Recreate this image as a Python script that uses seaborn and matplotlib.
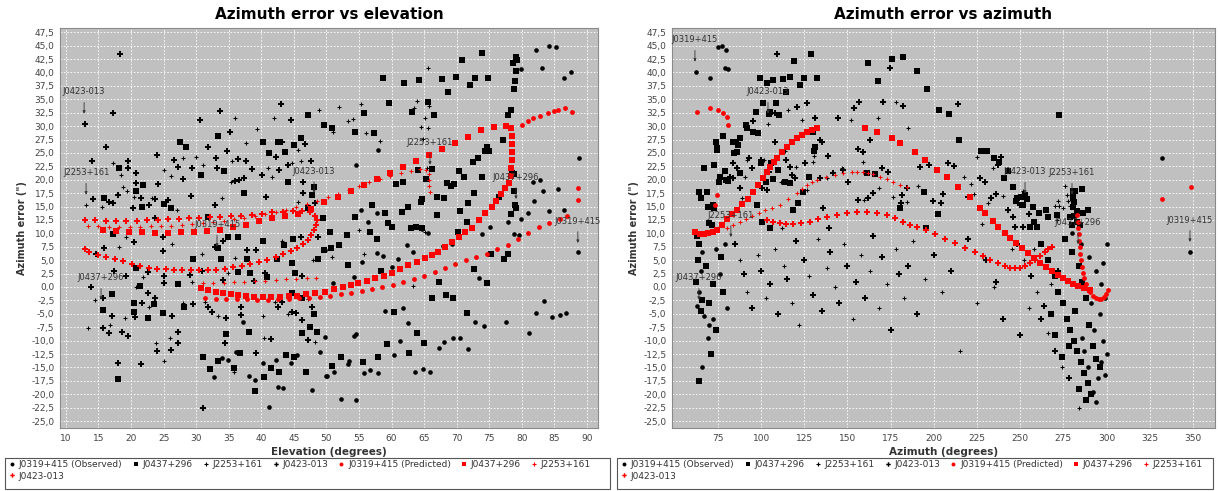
import numpy as np
import pandas as pd
import seaborn as sns
import matplotlib
matplotlib.use("Agg")
import matplotlib.pyplot as plt
from matplotlib.lines import Line2D
from matplotlib.patches import Rectangle
from matplotlib.ticker import FuncFormatter, MultipleLocator, FixedLocator

# ---------------- observed, error vs elevation (elevation, error) ----------------
el_obs_0319 = [(82.2,44.2),(84.2,45),(85.3,44.8),(83.1,40.9),(87.6,40.1),(86.5,39),(79.9,40.7),(57.9,25.6),
    (88.8,24.1),(54.5,22.8),(82.8,20),(81.7,19.6),(85.6,18.3),(83.3,17.9),(81.9,16),(55.3,14.4),(57.8,13.8),
    (84.2,14.2),(86.5,14.4),(81,13.8),(79.9,12.7),(56.4,12.1),(75.1,11.2),(77.9,12.1),(49.8,6.9),(55.5,4.7),
    (57.8,6.3),(58.7,5.8),(54.2,1.9),(51,0.7),(60.1,3.7),(61,5.2),(62.4,7.8),(63.3,6.5),(64.7,10.8),(65.6,10.1),
    (67.9,7.6),(69.3,8),(73.9,9.9),(78.8,9.9),(79.6,9.7),(73.4,1.7),(49.8,-9.3),(54.2,-9.1),(54.5,-8.8),
    (53.4,-13.8),(53.3,-14.4),(51.2,-15.9),(49.9,-16.6),(52.2,-20.9),(54.5,-21.1),(59,-4.5),(61.8,-3.9),
    (62.5,-6.7),(61.3,-10.1),(67.3,-11.4),(68.1,-10.3),(69.4,-9.5),(70.5,-9.5),(60.4,-12.7),(56.7,-15.5),
    (57.9,-16),(55.8,-16),(63.6,-15.9),(64.8,-15.3),(65.9,-15.9),(71.8,-11.6),(72.8,-6.5),(74.2,-7.3),
    (77.6,-6.5),(81.1,-8.6),(82.2,-4.9),(83.4,-2.6),(84.7,-5.6),(85.9,-5.2),(86.8,-4.9),(88.6,6.5),
    (32.7,-16.8),(34,-13.2),(34.9,-13.6),(36.1,-12.1),(37.2,-6.5),(38.1,-16.6),(39,-17.4),(40.3,-14.2),
    (41.2,-22.4),(42.3,-13.6),(42.6,-18.7),(43.3,-18.8),(44.6,-14.2),(45.5,-12.7),(47.8,-19.2),(49,-12.1),
    (50.1,-16.6)]
el_obs_0437 = [(47.2,32.1),(49.6,30.2),(33.3,28.2),(27.5,27.1),(28.4,26.1),(40.3,27.1),(42.6,27.1),(45,26.5),
    (46.1,27.8),(41.2,25),(43.6,25.2),(18.1,22.2),(34.3,21.6),(30.7,20.9),(21.8,19.0),(44.1,19.6),(48.1,18.7),
    (20.8,17.9),(15.8,16.6),(21.7,14.9),(25.1,15.5),(26.1,14.7),(37.3,17.5),(47.2,14.7),(49.5,12.9),(31.8,13.1),
    (47.8,17.2),(70.8,42.4),(73.9,43.7),(79.1,42.9),(79.3,42.4),(78.7,41.8),(79.1,40.3),(58.7,39),(61.9,38.1),
    (64.2,38.6),(67.8,38.8),(69.9,39.2),(72.8,39),(74.8,39),(72.1,37.7),(68.7,36.4),(79,38.4),(78.8,36.9),
    (59.6,34.3),(65.6,34.5),(63.2,32.6),(66.5,32.1),(78.4,33),(77.9,32.1),(55.8,32.5),(50.9,29.7),(54.4,28.9),
    (57.3,28.7),(74.7,26.1),(74.4,25.4),(75,25.4),(77.1,27.4),(73.3,24.1),(72.5,23.3),(64.1,21.8),(66.2,22),
    (70.4,21.6),(71.1,20.5),(73.9,20.5),(78.5,21.3),(78.8,21.1),(65.3,20.1),(61.8,19.6),(60.7,19.2),(68.5,19.4),
    (69.1,18.8),(69.6,19.2),(78.8,17.9),(72.7,17.5),(76.5,16.8),(67,16.8),(68.1,16.6),(64.7,16.4),(64.5,15.9),
    (71.8,15.7),(79,15.3),(79.1,14.7),(62.5,14.9),(57,15.3),(59,13.8),(61.6,14),(70.5,14.2),(78.4,13.6),(67,13.4),
    (54.4,13.1),(59.5,11.9),(63,11),(63.8,11.2),(64.7,11),(71.6,12.1),(50.6,10.3),(50.7,7.3),(51.9,7.8),
    (53.2,9.7),(56.7,10.3),(57.8,9),(53.3,4.1),(58.4,3),(60.1,11.2),(70.2,10.3),(75.3,6.2),(77.3,5.2),(77.9,6.2),
    (72.7,3.4),(74.7,0.7),(67.3,0.9),(66.2,-2.1),(68.4,-1.5),(69.4,-2.1),(52.2,-13.1),(50.9,-14.7),(60.4,-4.7),
    (63.9,-8.6),(65,-10.4),(59.3,-10.6),(62.7,-12.3),(55.6,-14),(57.9,-13.1),(71.6,-4.9),(17.2,9.9),(20.8,3.5),
    (21.4,0.2),(27.2,0.6),(29.5,5.2),(15.7,-4.3),(17.1,-1.3),(20.4,-3),(20.4,-4.7),(22.6,-5.8),(23.5,-3.2),
    (24.9,-4.9),(18,-17.2),(28.1,-3.7),(31,-13.1),(32.1,-15.3),(33.3,-13.8),(35.8,-15.1),(36.7,-12.3),
    (34.6,-8.8),(38.1,-8.4),(39,-19.4),(40.4,-16.8),(41.5,-15.1),(42.7,-15.9),(43.8,-12.7),(45,-13.1),
    (46.9,-15.9),(46.3,-8.6),(48.6,-8.4),(47.5,-7.5),(48.1,-5),(46.3,-2.1),(33.8,5.2),(34.9,9.3),(36.4,9.3),
    (33.3,7.3),(37.8,5.2),(40.3,8.6),(43.5,7.8),(44.9,9),(49.6,6.9),(44.7,4.5),(42.4,5.2),(40.9,1.9),(38.3,2.6),
    (36.4,2.8),(45.2,2.6),(48.7,5.2),(44.7,-1.1)]
el_obs_2253 = [(13.1,15.3),(36,31.5),(41.9,31.5),(48.9,33),(39.3,29.5),(37.6,26.9),(45.6,25.6),(30,24.3),
    (17.2,23.1),(28,24.1),(35.5,23.5),(46.1,23.5),(25,21.8),(31,22.8),(41,22.2),(44.7,23.1),(26.1,20.7),
    (41.6,20.5),(35.3,19.6),(18.4,20.9),(18.8,18.7),(19.4,17.9),(20.4,16.8),(23.2,16.6),(27.1,14.4),(15.5,14.9),
    (34,16.6),(45.6,15.9),(65.6,40.9),(55.3,34.1),(51.9,33.6),(63.9,34.7),(65.8,33.8),(63.5,33.4),(65.1,31.5),
    (54.1,31.3),(53.3,31),(51,28.9),(56.1,28.7),(64.5,29.9),(65.6,29.7),(64.8,27.6),(58.2,27.2),(65.5,22.2),
    (50.9,5.6),(55,10.6),(55.8,6.2),(65.1,10.3),(63.3,0.2),(18.1,7.5),(19.2,9.3),(26.3,8),(21.8,1.9),(20.8,0),
    (29.4,0.9),(30.9,6.2),(14.5,-2.4),(16.8,-7.1),(13.4,-7.6),(19.1,-5.8),(22.7,-3.7),(26,-9.5),(23.8,-10.4),
    (25.1,-13.8),(28,-3),(35.8,-15.9),(40.4,-9.5),(48.3,-10.3),(44.1,-5),(47.2,-2.2),(40.3,-5.4),(33.3,-5.4),
    (31.4,-2.8),(36,5.4),(43.2,8.6),(47.9,5),(34.9,2.6),(42.1,-2.8)]
el_obs_0423 = [(18.3,43.5),(12.9,30.4),(17.2,32.5),(16.1,26.1),(14.0,23.5),(33.7,32.8),(30.6,31.2),(43,34.1),
    (44.6,31.2),(35.2,28.9),(31.8,26.1),(43.2,27.1),(46.7,26.7),(34.7,25.4),(24,24.6),(36.4,23.9),(19.5,23.5),
    (26.6,23.7),(33,24.1),(37.6,23.5),(42.3,24.3),(47.6,23.5),(19.5,22.2),(27.2,22.4),(29.4,22.2),(38.6,22),
    (42.7,21.8),(44.1,22.8),(20.8,21.3),(33.2,22.2),(40.1,20.9),(37.3,20.3),(36,19.8),(28,20.1),(20.8,19.4),
    (24.1,19.2),(36.6,20),(46.4,19.6),(18,17.2),(14.1,16.4),(16.6,15.9),(21.5,16.6),(22.7,15.3),(23.7,16.4),
    (25.7,16.2),(20.3,14.7),(17.2,15.7),(29.2,17),(32.9,15.3),(40.7,16.8),(46.4,17.5),(48.2,15.7),(23.7,12.9),
    (15.8,7.3),(14.6,6.2),(20.4,8.4),(24.9,9.3),(24.9,6.7),(17.4,3),(19.2,2.1),(22.6,2.8),(25.1,2.1),
    (22.6,-1.1),(25.1,0.7),(29,2.2),(30.9,3),(13.8,0),(15.7,-2.1),(17.1,-5.4),(15.7,-7.6),(16.6,-8.6),
    (18.6,-8.4),(19.5,-9.1),(20.6,-5.6),(21.7,-3),(23.7,-2.1),(26.3,-5.4),(27.2,-8.4),(27.2,-10.4),(24,-11.9),
    (26.1,-11.8),(18,-14.2),(21.5,-14.4),(29.5,-3.2),(31,-22.6),(34.4,-10.4),(39.2,-12.3),(41.5,-9.7),
    (47.2,-9.9),(46.3,-6.2),(45.3,-4.9),(44.7,-4.7),(47.8,-3.7),(43.2,-2.8),(42.6,-3.7),(36.9,-3.7),
    (32.4,-4.7),(34.6,-5.8),(31.8,-3.7),(34.1,8.6),(32.9,7.5),(37.8,6.9),(39.2,6.9),(46.1,9.3),(48.7,9.3),
    (40.6,2.6),(38.9,1.1),(34.1,1.3),(46.3,2.1),(36.9,-5.2)]

# ---------------- predicted, error vs elevation ----------------
el_pred_0319 = [(31.4,-2.1),(33.0,-2.2),(34.6,-2.2),(36.2,-2.3),(37.8,-2.3),(39.4,-2.4),(41.0,-2.4),(42.6,-2.3),
    (44.2,-2.2),(45.8,-2.1),(47.4,-2.0),(49.0,-1.9),(50.6,-1.7),(52.2,-1.4),(53.8,-1.1),(55.4,-0.8),(57.0,-0.4),
    (58.6,0.0),(60.2,0.4),(61.8,0.9),(63.4,1.5),(65.0,2.1),(66.6,2.8),(68.2,3.5),(69.8,4.2),(71.4,5.0),(73.0,5.6),
    (74.6,6.2),(76.2,7.0),(77.8,7.9),(79.4,8.9),(81.0,10.0),(82.6,11.1),(84.2,12.0),(85.8,12.7),(87.0,13.2),
    (80.0,30.2),(81.0,31.0),(81.7,31.5),(82.8,31.9),(84.0,32.4),(85.0,32.8),(85.6,33.0),(86.6,33.4),(87.7,32.6),
    (88.6,18.5),(88.6,16.2)]
el_pred_0437 = [(15.7,10.6),(17.7,10.4),(19.7,10.3),(21.7,10.2),(23.7,10.1),(25.7,10.1),(27.7,10.2),(29.7,10.3),
    (31.7,10.5),(33.7,10.7),(35.7,11.1),(37.7,11.6),(39.7,12.3),(41.7,12.8),(43.7,13.2),(45.7,13.7),(47.7,14.6),
    (49.7,15.8),(51.7,16.8),(53.7,17.9),(55.7,19.1),(57.7,20.2),(59.7,21.3),(61.7,22.4),(63.7,23.5),(65.7,24.7),
    (67.7,25.8),(69.7,26.9),(71.7,28.0),(73.7,29.2),(75.7,29.9),(77.5,30.1),(78.4,29.7),(78.5,28.2),(78.5,26.7),
    (78.5,25.2),(78.5,23.7),(78.4,22.2),(78.3,20.7),(78.1,19.3),(77.4,18.5),(76.8,17.3),(76.1,16.1),(75.4,14.9),
    (74.4,13.8),(73.4,12.4),(72.4,11.0),(71.3,10.3),(70.3,9.3),(69.3,8.4),(68.2,7.4),(67.2,6.5),(66.2,5.9),
    (65.2,5.4),(63.9,4.7),(62.6,4.1),(61.3,3.3),(60.1,2.6),(58.8,2.1),(57.5,1.7),(56.2,1.2),(54.9,0.7),(53.7,0.3),
    (52.5,0.0),(51.2,-0.4),(49.8,-0.9),(48.3,-1.1),(46.9,-1.4),(45.5,-1.6),(44.2,-1.7),(42.9,-1.8),(41.5,-1.9),
    (40.2,-1.9),(38.9,-1.8),(37.7,-1.7),(36.5,-1.5),(35.3,-1.3),(34.1,-1.1),(33.0,-0.9),(31.8,-0.6),(30.7,-0.2)]
el_pred_2253 = [(13.4,11.4),(15.0,11.3),(16.6,11.2),(18.2,11.2),(19.8,11.2),(21.4,11.2),(23.0,11.3),(24.6,11.3),
    (26.2,11.4),(27.8,11.5),(29.4,11.7),(31.0,11.9),(32.6,12.1),(34.2,12.3),(35.8,12.6),(37.4,12.9),(39.0,13.2),
    (40.6,13.6),(42.2,14.0),(43.8,14.4),(45.4,14.9),(47.0,15.5),(48.6,16.1),(50.2,16.7),(51.8,17.4),(53.4,18.1),
    (55.0,18.8),(56.6,19.5),(58.2,20.1),(59.8,20.7),(61.4,21.2),(63.0,21.7),(64.4,22.0),(65.3,21.8),(65.7,21.0),
    (65.8,20.0),(65.8,18.9),(65.9,17.8),(31.0,0.7),(32.6,0.7),(34.2,0.8),(35.8,0.9),(37.4,1.0),(39.0,1.1),
    (40.6,1.2),(42.2,1.3),(43.8,1.4),(45.4,1.5),(47.0,1.6),(48.4,1.7)]
el_pred_0423 = [(12.9,12.5),(14.5,12.4),(16.1,12.3),(17.7,12.3),(19.3,12.3),(20.9,12.3),(22.5,12.4),(24.1,12.5),
    (25.7,12.6),(27.3,12.7),(28.9,12.8),(30.5,12.9),(32.1,13.0),(33.7,13.1),(35.3,13.2),(36.9,13.3),(38.5,13.5),
    (40.1,13.7),(41.7,13.9),(43.3,14.0),(44.9,14.2),(46.3,14.2),(47.5,14.0),(48.2,13.3),(48.5,12.4),(48.4,11.5),
    (48.1,10.6),(47.7,9.7),(47.1,8.8),(46.4,8.0),(45.5,7.3),(44.5,6.7),(43.4,6.1),(42.2,5.6),(40.9,5.1),(39.6,4.7),
    (38.3,4.3),(37.0,4.0),(35.7,3.7),(34.4,3.4),(33.1,3.2),(31.8,3.1),(30.5,3.1),(29.2,3.1),(27.9,3.2),(26.6,3.2),
    (25.3,3.3),(24.0,3.4),(22.7,3.6),(21.4,3.9),(20.1,4.3),(18.8,4.8),(17.5,5.3),(16.2,5.6),(14.9,6.0),(13.6,6.6),
    (13.0,7.1)]

# ---------------- observed, error vs azimuth (azimuth, error) ----------------
az_obs_0319 = [(62.3,40.1),(70.4,39),(75,44.8),(77.3,45),(79.6,44.2),(79.1,40.9),(80.8,40.7),(332,24.1),
    (348.3,6.5),(280,10),(285,8),(290,5.5),(294,3),(297,0.5),(299,-2),(296,-5),(293,-8),(298,-10),(300,-12.5),
    (297,-14),(295,-17),(292,-19.5),(289,-15),(286,-9.5),(291,-3),(298,4.5),(300,8),(287,-12),(294,-21.5),
    (299,-16.5),(66,6.5),(65,3),(64,-1),(63,-3.5),(67,-5.5),(72,-6),(69,-9.5),(66,-15),(76,2.5),(80,-4),(74,7),
    (79,8),(70,-7)]
az_obs_0437 = [(99.3,39),(103.4,38.1),(106.8,38.6),(112.6,38.8),(116.7,39.2),(122.5,37.7),(124.8,39),(132.3,39),
    (114.4,36.4),(119,42.2),(128.9,43.5),(101.1,34.3),(108.6,34.3),(105.1,32.6),(104.5,32.3),(110.3,32.1),
    (97,32.6),(91.2,30.2),(91.8,29.7),(95.3,28.9),(98.2,28.7),(77.9,28.2),(73.8,27.1),(83.7,27.1),(85.4,27.1),
    (87.7,27.8),(86.6,26.5),(74.4,25.9),(74.4,25.6),(84.3,25),(86,25.2),(66.9,22.2),(72.7,22.8),(79.1,21.6),
    (87.7,21.3),(76.2,20.5),(75.6,19.6),(79.6,20),(80.8,19.8),(64,17.7),(65.2,16.6),(69.2,14.9),(72.1,15.3),
    (72.7,14.7),(68.6,17.7),(71.5,11.6),(69.8,11.9),(99.9,23.1),(105.7,23.1),(109.7,21.8),(106.8,20.1),
    (113.8,19.6),(116.7,19.4),(102.8,19.6),(97.6,15.3),(124.2,17.7),(118.4,14.4),(121.3,15.7),(131.2,26.1),
    (130.6,25.4),(130,28.9),(175.8,42.5),(182.1,42.9),(161.9,41.8),(167.6,38.4),(190.2,40.3),(196,36.9),
    (194.3,17.7),(165.9,21.1),(161.3,21.3),(180.4,14.7),(195.4,11),(127.7,20.5),(100.5,12.1),(105.1,11),
    (203,33),(208.8,32.3),(214.5,27.4),(272.4,32.1),(227.3,25.4),(230.8,25.4),(234.8,24.1),(237.7,23.3),
    (243,21.6),(240.6,20.3),(245.8,18.7),(202.4,13.6),(248.1,16.6),(250.4,16.8),(252.8,17.2),(253.9,16.4),
    (251.6,15.3),(247.6,16),(257.4,14.9),(260.9,13.8),(264.9,14.4),(266.1,13.1),(271.3,13.4),(258,12.1),
    (259.7,11.2),(255.7,11.2),(280.6,17.9),(281.7,17.9),(285.8,18.3),(280.6,17.2),(280.6,16.6),(281.2,15.9),
    (280.6,14.9),(282.9,14.2),(281.2,13.2),(286.4,13.8),(289.3,14.4),(278.8,13.1),(282.9,12.1),(280,11.6),
    (284.6,11.6),(63,9.5),(64,8),(63.5,5),(62.5,1),(66,-2.5),(65,-4.5),(70,-3),(74,-8),(71,-12.5),(64,-17.5),
    (72,0.5),(78,-1),(68,4),(77,5.5),(262,8),(266,5),(270,2),(272,-1),(275,-3),(277,-6),(279,-8),(281,-10),
    (283,-12),(285,-14),(287,-16),(289,-18),(291,-20),(276,9),(280,6.5),(284,4),(286,1),(288,-2),(282,-4.5),
    (278,-11),(274,-13),(270,-9),(268,-5),(290,-7),(292,-11),(294,-13.5),(296,-15),(284,-19),(288,-21)]
az_obs_2253 = [(115.5,33),(123.6,31.2),(104,30.4),(91.8,23.7),(90.6,20.5),(88.9,16.6),(101.6,23.7),(113.8,25.4),
    (111.5,19.6),(120.2,22.4),(126.5,18.1),(130,23.3),(130.6,24.4),(138.1,20.3),(146.8,22.2),(152,31.2),
    (167.6,31.5),(178.1,34.5),(185,29.7),(190.8,18.8),(176.3,16.8),(158.9,23.3),(168.2,18.5),(159.5,16.2),
    (184.4,15.9),(112.1,11),(225,24.3),(234.2,22.2),(217.4,20.5),(221.5,19.2),(223.2,17.4),(240,17),(231.3,15.7),
    (227.9,11.8),(251.6,17.9),(271.3,12.5),(275.9,18.8),(277.1,17.2),(271.9,16),(277.7,16),(270.1,15.1),
    (272.4,15.1),(274.8,14.7),(278.8,15.1),(88,5),(92,-1),(98,6),(103,-2),(108,7),(113,4),(118,-3),(122,-7),
    (128,2),(133,9),(138,3.5),(143,0),(148,8),(153,-6),(158,6),(163,3),(168,-4),(173,0.5),(178,7),(183,-2),
    (188,8.5),(195,1.5),(205,-1),(215,-12),(225,-3),(235,0),(245,7),(255,-4),(252,5),(260,-1),(268,0.5),(258,7),
    (266,-8.5),(274,-15),(244,3.5),(284,-22.5)]
az_obs_0423 = [(109.2,43.5),(108,32.5),(120.7,33.6),(126.5,34.3),(131.2,31.5),(95.3,31),(83.7,23.1),(86,22.2),
    (93,24.1),(94.7,22.2),(81.9,20.5),(83.7,20.3),(87.7,18.5),(99.9,23.7),(104.5,21.5),(108,27.1),(114.4,23.7),
    (116.7,22.4),(103.4,18.1),(100.5,18.5),(119.6,20.3),(117.8,20.9),(135.8,14.7),(125.4,23.1),(134.1,27.4),
    (135.2,27.1),(138.7,24.4),(134.1,20.3),(141.6,21.3),(147.4,21.8),(150.3,19.6),(144.5,31.5),(153.7,33.4),
    (156.6,34.5),(163,27.4),(170.5,34.5),(182.1,33.8),(174.6,40.9),(192,22.4),(197.2,22.8),(184.4,18.5),
    (181.5,17.2),(173.4,21.5),(169.9,22.2),(158.9,25.2),(156.1,25.7),(164.8,17.5),(161.9,16.6),(156.1,16.2),
    (181,15.7),(199.5,16),(139.3,11),(214,34.1),(238.9,24.3),(237.1,22.8),(208.2,23.1),(211.7,22.6),
    (226.7,20.3),(229.6,19.6),(205.3,17.4),(219.8,16.8),(233.1,16.6),(236,17.4),(204.1,15.7),(243,14.4),
    (245.8,13.1),(247,11.2),(251.6,11.2),(249.9,15.3),(255.1,13.6),(85,8),(90,2.5),(95,-4),(100,3),(105,0.5),
    (110,-5),(115,1.5),(120,8.5),(125,5),(130,-1.5),(135,-4.5),(140,6.5),(145,-3),(150,4),(155,1),(160,-2),
    (165,9.5),(170,5.5),(175,-8),(180,2.5),(185,4),(190,-5),(200,6),(210,3),(220,9),(230,5),(240,-6),(250,-9),
    (248,8),(256,2),(264,-3.5),(272,3),(262,-6),(270,-12),(278,-17),(236,1)]

# ---------------- predicted, error vs azimuth ----------------
az_pred_0319 = [(62.8,32.6),(70.4,33.4),(75,33),(77.9,32.5),(80.2,31.7),(80.8,30.2),(74.4,17.2),(73.3,15.3),
    (332,16.4),(348.9,18.7),(283,13.4),(283.2,12.2),(283.5,11.0),(283.8,9.8),(284.1,8.6),(284.4,7.4),(284.8,6.2),
    (285.2,5.0),(285.7,3.8),(286.3,2.7),(287.0,1.6),(288,0.6),(289.2,-0.3),(290.6,-1.0),(292.2,-1.6),(293.8,-2.0),
    (295.4,-2.2),(297,-2.2),(298.5,-1.9),(299.8,-1.3),(300.8,-0.6)]
az_pred_0437 = [(62,10.2),(64.5,9.8),(67,9.8),(69.5,10.0),(72,10.3),(74.4,10.6),(77.3,11.6),(80.2,12.7),
    (83.1,13.6),(86.0,14.4),(88.9,15.5),(92.4,16.4),(95.3,17.7),(98.2,19.0),(101.1,20.3),(103.4,21.5),
    (105.1,22.4),(107.4,23.3),(109.2,24.1),(112.1,25.2),(115.0,26.1),(117.8,27.1),(120.7,27.8),(123.6,28.4),
    (126.5,28.9),(129.4,29.3),(132.3,29.7),(160.1,29.7),(167.1,28.9),(175.8,27.8),(180.4,26.9),(189.1,25.2),
    (194.9,23.7),(201.8,21.8),(207.6,20.5),(214.0,18.7),(220.9,16.8),(226.7,14.7),(229.6,13.8),(234.2,12.3),
    (237.1,11.2),(241,10.1),(244.1,9.1),(247.5,8.2),(251,7.3),(254.5,6.3),(258,5.4),(261.5,4.5),(264.9,3.7),
    (268.4,2.9),(271.9,2.2),(274.8,1.6),(277.7,1.1),(280.6,0.6),(283.5,0.2),(287,-0.2),(290.4,-0.6)]
az_pred_2253 = [(80.2,11.0),(84,11.6),(87.7,12.1),(91.2,12.7),(94.7,13.2),(98.5,13.8),(102.2,14.4),(106.5,14.8),
    (110.9,15.3),(115.8,16.4),(120.7,17.5),(123.6,18.2),(126.5,19.0),(129.4,19.5),(132.3,20.0),(137.5,20.5),
    (142.7,20.9),(147.6,21.2),(152.6,21.5),(155.8,21.5),(159,21.5),(161.9,21.3),(164.8,21.1),(168.8,20.6),
    (172.9,20.1),(176.6,19.5),(180.4,19.0),(184.4,18.7)]
az_pred_0423 = [(103.4,12.5),(107,12.1),(110.9,11.9),(114.6,11.8),(118.4,11.8),(123.3,11.9),(128.3,12.1),
    (133.2,12.6),(138.1,13.1),(143.9,13.5),(149.7,13.8),(155.5,14.0),(161.3,14.0),(167.1,13.8),(172.9,13.4),
    (177.5,12.8),(182.1,12.1),(186.2,11.6),(190.2,11.2),(195.5,10.6),(200.7,9.9),(206.5,9.0),(212.2,8.2),
    (218,7.3),(223.8,6.5),(228.2,5.7),(232.5,5.0),(236.9,4.4),(241.2,3.9),(244.1,3.6),(247,3.5),(250,3.6),
    (252.8,3.9),(255.7,4.4),(258.6,5.0),(261.5,5.7),(264.3,6.5),(266.4,7.0),(268.4,7.5)]

# annotation labels (text, x, error)
el_labels = [("J0423-013", 12.8, 32.3), ("J2253+161", 13.1, 17.2), ("J0437+296", 15.4, -2.4),
             ("J0319+415", 33.2, 7.5), ("J0423-013", 48.1, 17.5), ("J2253+161", 65.9, 22.8),
             ("J0437+296", 79.1, 16.4), ("J0319+415", 88.6, 8.2)]
az_labels = [("J0319+415", 61.7, 42.0), ("J0423-013", 104.0, 32.3), ("J2253+161", 82.5, 9.3),
             ("J0437+296", 64.0, -2.4), ("J0423-013", 252.8, 17.4), ("J2253+161", 280.0, 17.2),
             ("J0437+296", 283.5, 8.0), ("J0319+415", 348.3, 8.4)]

sources = ["J0319+415", "J0437+296", "J2253+161", "J0423-013"]
legend_labels = ["J0319+415 (Observed)", "J0437+296", "J2253+161", "J0423-013",
                 "J0319+415 (Predicted)", "J0437+296", "J2253+161", "J0423-013"]

# marker, size (observed / predicted), linewidth per source
shapes = {"J0319+415": ("o", 11, 12, 0), "J0437+296": ("s", 14, 17, 0),
          "J2253+161": ("+", 9, 10, 0.75), "J0423-013": ("P", 14, 14, 0)}


def frame(pairs, src, kind):
    a = np.array(pairs, dtype=float)
    return pd.DataFrame({"x": a[:, 0], "err": a[:, 1], "source": src, "kind": kind})


el_df = pd.concat([frame(el_obs_0319, sources[0], "obs"), frame(el_obs_0437, sources[1], "obs"),
                   frame(el_obs_2253, sources[2], "obs"), frame(el_obs_0423, sources[3], "obs"),
                   frame(el_pred_0319, sources[0], "pred"), frame(el_pred_0437, sources[1], "pred"),
                   frame(el_pred_2253, sources[2], "pred"), frame(el_pred_0423, sources[3], "pred")])
az_df = pd.concat([frame(az_obs_0319, sources[0], "obs"), frame(az_obs_0437, sources[1], "obs"),
                   frame(az_obs_2253, sources[2], "obs"), frame(az_obs_0423, sources[3], "obs"),
                   frame(az_pred_0319, sources[0], "pred"), frame(az_pred_0437, sources[1], "pred"),
                   frame(az_pred_2253, sources[2], "pred"), frame(az_pred_0423, sources[3], "pred")])

sns.set_theme(style="white")
plt.rcParams["font.family"] = ["DejaVu Sans"]

fig = plt.figure(figsize=(12.2, 4.91), dpi=100)
ax1 = fig.add_axes([0.0492, 0.1283, 0.4410, 0.8147])
ax2 = fig.add_axes([0.5508, 0.1283, 0.4451, 0.8147])

comma = FuncFormatter(lambda v, p: f"{v:.1f}".replace(".", ","))


def draw(ax, df, labels):
    ax.set_facecolor("#c0c0c0")
    for kind, col, z in [("obs", "black", 3), ("pred", "red", 4)]:
        for src in sources:
            m, s_obs, s_pred, lw = shapes[src]
            d = df[(df.source == src) & (df.kind == kind)]
            sns.scatterplot(data=d, x="x", y="err", ax=ax, marker=m,
                            s=s_obs if kind == "obs" else s_pred, color=col,
                            linewidth=lw, legend=False, zorder=z)
    for txt, x, y in labels:
        ax.annotate(txt, xy=(x, y), xytext=(0, 12.5), textcoords="offset points",
                    ha="center", va="bottom", fontsize=6, color="#333333", zorder=5,
                    arrowprops=dict(arrowstyle="-|>", color="#333333", lw=0.6,
                                    mutation_scale=4, shrinkA=2, shrinkB=0))
    ax.set_ylim(-26.3, 48.3)
    ax.yaxis.set_major_locator(MultipleLocator(2.5))
    ax.yaxis.set_major_formatter(comma)
    ax.grid(True, color="white", lw=0.6, ls=(0, (2, 2)))
    ax.set_axisbelow(True)
    ax.tick_params(labelsize=6.5, labelcolor="#444444", length=2, width=0.6, color="#888888", pad=2)
    for sp in ax.spines.values():
        sp.set_color("#8a8a8a")
        sp.set_linewidth(0.8)
    ax.set_ylabel('Azimuth error (")', fontsize=7, fontweight="bold", color="#333333", labelpad=3)


draw(ax1, el_df, el_labels)
ax1.set_xlim(9.1, 91.7)
ax1.xaxis.set_major_locator(FixedLocator(np.arange(10, 91, 5)))
ax1.set_xlabel("Elevation (degrees)", fontsize=7.5, fontweight="bold", color="#333333", labelpad=3)

draw(ax2, az_df, az_labels)
ax2.set_xlim(48.4, 362.8)
ax2.xaxis.set_major_locator(FixedLocator(np.arange(75, 351, 25)))
ax2.set_xlabel("Azimuth (degrees)", fontsize=7.5, fontweight="bold", color="#333333", labelpad=3)

fig.text(0.2697, 0.970, "Azimuth error vs elevation", ha="center", va="center",
         fontsize=11, fontweight="bold", color="black")
fig.text(0.773, 0.970, "Azimuth error vs azimuth", ha="center", va="center",
         fontsize=11, fontweight="bold", color="black")

# legends (one per chart, boxed)
handles = []
for col in ["black", "red"]:
    for src in sources:
        m, s_obs, s_pred, lw = shapes[src]
        handles.append(Line2D([], [], ls="none", marker=m, ms=np.sqrt(s_obs) * 0.85, color=col,
                              mew=0.8 if m == "+" else 0))
order = [0, 7, 1, 2, 3, 4, 5, 6]
for x0, w in [(5, 605), (617, 596)]:
    fig.patches.append(Rectangle((x0 / 1220, 2 / 491), w / 1220, 31 / 491, transform=fig.transFigure,
                                 fill=False, ec="#555555", lw=0.8))
    fig.legend([handles[i] for i in order], [legend_labels[i] for i in order],
               loc="upper left", bbox_to_anchor=((x0 + 3) / 1220, 1 - 459 / 491), ncol=7,
               frameon=False, fontsize=6.5, handlelength=0.7, handletextpad=0.4,
               columnspacing=1.1, labelspacing=0.3, borderaxespad=0, borderpad=0.1,
               labelcolor="#333333")

fig.savefig("out.png", dpi=100)
